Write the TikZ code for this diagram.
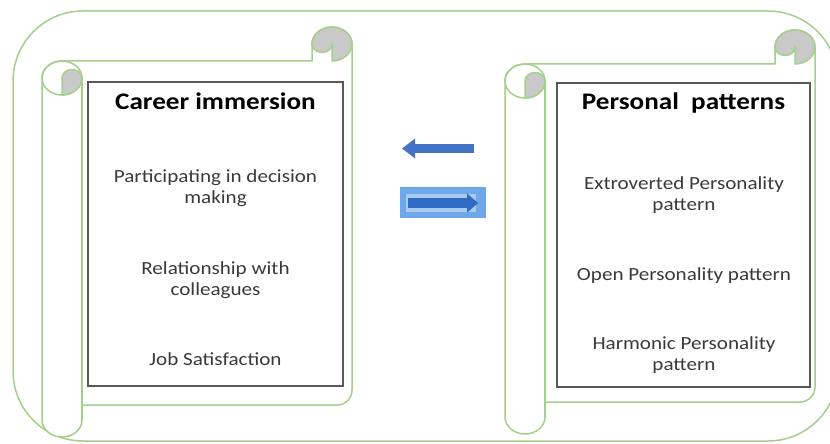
\documentclass[tikz,border=0pt]{standalone}
\usepackage{fontspec}
\setmainfont{Carlito}[FakeStretch=1.14]
\usepackage{tikz}
\usetikzlibrary{arrows.meta,positioning}
\definecolor{scrollgreen}{HTML}{A3D08A}
\definecolor{rollgray}{HTML}{C9C9C9}
\definecolor{boxgray}{HTML}{585858}
\definecolor{itemgray}{HTML}{3A3A3A}
\definecolor{arrowblue}{HTML}{4472C4}
\definecolor{panelblue}{HTML}{6FA8E8}
\definecolor{bandblue}{HTML}{A8CBF1}
\definecolor{darkblue}{HTML}{2F6AC4}
\tikzstyle{scrollline} = [draw=scrollgreen, line width=1.5pt, line join=round]
\tikzstyle{listbox} = [draw=boxgray, line width=2pt, fill=white, minimum height=304pt, inner sep=0pt]
\tikzstyle{boxtitle} = [font=\fontsize{23.8}{28}\selectfont\bfseries, text=black, anchor=base]
\tikzstyle{itemtext} = [font=\fontsize{18.5}{20.5}\selectfont, text=itemgray, align=center, anchor=base]
\tikzstyle{bigarrow} = [line width=9pt, -{Triangle[length=13pt, width=19pt]}]

% vertical scroll: #1 left, #2 right, #3 top of the roll, #4 foot of the sheet, #5 foot of the roller
\newcommand{\scrollpaper}[5]{%
  \filldraw[scrollline, fill=white]
    (#1+20,#3+34) -- (#2-40,#3+34) -- (#2-40,#3+17)
    arc[start angle=180, end angle=360, x radius=20, y radius=17]
    -- (#2,#4-15) arc[start angle=0, end angle=90, radius=15]
    -- (#1+40,#4) -- (#1+40,#5-17)
    arc[start angle=0, end angle=180, x radius=20, y radius=17]
    -- (#1,#3+51)
    arc[start angle=180, end angle=270, x radius=20, y radius=17] -- cycle;
  \draw[scrollline] (#1+40,#3+51) -- (#1+40,#5-17);
  \draw[scrollline] (#1+20,#3+51) ellipse[x radius=20, y radius=17];
  \filldraw[scrollline, fill=rollgray] (#1+20,#3+68) -- (#1+20,#3+51)
    arc[start angle=180, end angle=360, x radius=10, y radius=8.5]
    arc[start angle=0, end angle=90, x radius=20, y radius=17] -- cycle;
  \filldraw[scrollline, fill=rollgray] (#2-40,#3+17)
    arc[start angle=180, end angle=360, x radius=20, y radius=17]
    arc[start angle=0, end angle=90, x radius=20, y radius=17]
    -- (#2-20,#3+17)
    arc[start angle=0, end angle=180, x radius=10, y radius=8.5] -- cycle;
}

\begin{document}
\begin{tikzpicture}[x=1pt, y=-1pt]
\clip (0,0) rectangle (830,444);
\fill[white] (0,0) rectangle (830,444);
\draw[scrollline, rounded corners=70pt] (13,11) rectangle (838,441);

\scrollpaper{42}{352}{27}{405}{437}
\scrollpaper{505}{815}{30}{402}{434}

\node[listbox, minimum width=255pt] (career) at (215.5,234) {};
\node[listbox, minimum width=253pt] (personal) at (683.5,235) {};

\node[boxtitle] (careertitle) at (215.5,110) {Career immersion};
\node[itemtext] (decision) at (215.5,203) {Participating in decision\\making};
\node[itemtext] (colleagues) at (215.5,295) {Relationship with\\colleagues};
\node[itemtext] (satisfaction) at (215.5,365) {Job Satisfaction};

\node[boxtitle] (personaltitle) at (683.5,110) {Personal\ \ patterns};
\node[itemtext] (extroverted) at (684,210) {Extroverted Personality\\pattern};
\node[itemtext] (open) at (684,280) {Open Personality pattern};
\node[itemtext] (harmonic) at (684,370) {Harmonic Personality\\pattern};

\coordinate (backtail) at (474,148.5);
\coordinate (backtip) at (402,148.5);
\draw[bigarrow, arrowblue] (backtail) -- (backtip);

\node[fill=panelblue, minimum width=86pt, minimum height=31pt, inner sep=0pt] (swapbox) at (443,202.5) {};
\node[fill=bandblue, minimum width=70pt, minimum height=18pt, inner sep=0pt] (band) at (441,203) {};
\draw[bigarrow, darkblue, line width=10pt, -{Triangle[length=11pt, width=18pt]}]
  ([xshift=2pt]band.west) -- ([xshift=2pt]band.east);
\end{tikzpicture}
\end{document}
